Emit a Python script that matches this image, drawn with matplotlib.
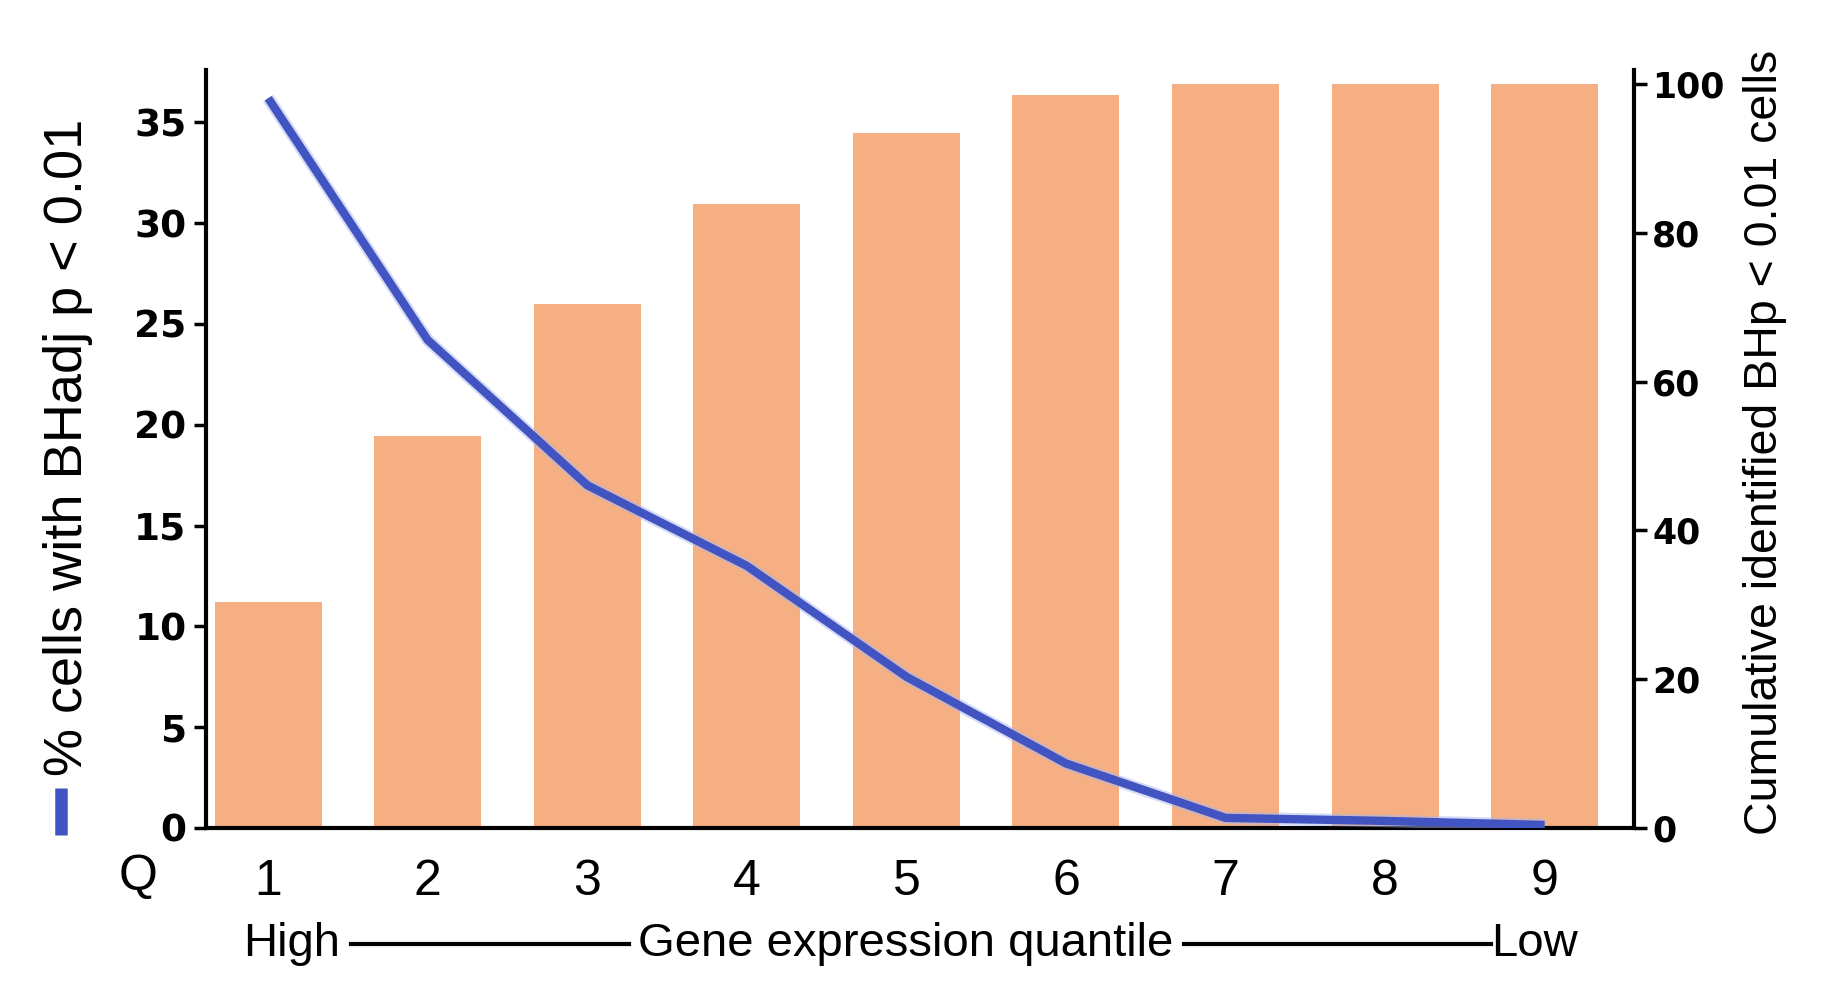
import matplotlib
matplotlib.use("Agg")
import matplotlib.pyplot as plt
from matplotlib.lines import Line2D

quantiles = [1, 2, 3, 4, 5, 6, 7, 8, 9]
pct_cells = [36.2, 24.2, 17.0, 13.0, 7.5, 3.2, 0.5, 0.35, 0.15]
cumulative = [30.4, 52.7, 70.5, 83.9, 93.4, 98.6, 100, 100, 100]
left_ticks = [0, 5, 10, 15, 20, 25, 30, 35]
right_ticks = [0, 20, 40, 60, 80, 100]

NARROW = ["Liberation Sans Narrow", "Liberation Sans", "DejaVu Sans"]
BAR_COLOR = "#F5AF82"
LINE_COLOR = "#4253c2"

fig = plt.figure(figsize=(18.39, 10.08), dpi=100)
ax = fig.add_axes([0.112, 0.1786, 0.7765, 0.752])
ax2 = ax.twinx()

ax2.bar(quantiles, cumulative, width=0.67, color=BAR_COLOR, zorder=1)
ax.plot(quantiles, pct_cells, color="#aab8f0", lw=9, solid_capstyle="butt", zorder=3, alpha=0.5)
ax.plot(quantiles, pct_cells, color=LINE_COLOR, lw=6, solid_capstyle="butt", zorder=4)

ax.set_zorder(ax2.get_zorder() + 1)
ax.patch.set_visible(False)

ax.set_xlim(0.61, 9.56)
ax.set_ylim(0, 37.6)
ax2.set_ylim(0, 101.9)

for a in (ax, ax2):
    a.spines["top"].set_visible(False)
    for s in a.spines.values():
        s.set_linewidth(3)
ax2.spines["left"].set_visible(False)
ax2.spines["bottom"].set_visible(False)
ax.spines["right"].set_visible(False)

ax.set_yticks(left_ticks)
ax.set_yticklabels([str(t) for t in left_ticks], fontsize=27, fontweight="bold", family="DejaVu Sans")
ax.tick_params(axis="y", direction="out", length=9, width=2.5, pad=5)
ax2.set_yticks(right_ticks)
ax2.set_yticklabels([str(t) for t in right_ticks], fontsize=25, fontweight="bold", family="DejaVu Sans")
ax2.tick_params(axis="y", direction="out", length=9, width=2.5, pad=4)

ax.set_xticks(quantiles)
ax.set_xticklabels([str(q) for q in quantiles], fontsize=36, family=NARROW)
ax.tick_params(axis="x", length=0, pad=22)

fig.text(0.075, 0.130, "Q", fontsize=36, family=NARROW, ha="center", va="center")

fig.text(0.037, 0.556, "% cells with BHadj p < 0.01", rotation=90, fontsize=39,
         family=NARROW, ha="center", va="center")
fig.add_artist(Line2D([0.033, 0.033], [0.172, 0.218], color=LINE_COLOR, lw=9,
                      solid_capstyle="butt", transform=fig.transFigure))
fig.text(0.960, 0.561, "Cumulative identified BHp < 0.01 cells", rotation=90, fontsize=33.5,
         family=NARROW, ha="center", va="center")

# bottom caption with connecting rules
y_cap = 0.0635
t_high = fig.text(0.132, y_cap, "High", fontsize=34, family=NARROW, ha="left", va="center")
t_mid = fig.text(0.4923, y_cap, "Gene expression quantile", fontsize=34, family=NARROW,
                 ha="center", va="center")
t_low = fig.text(0.8578, y_cap, "Low", fontsize=34, family=NARROW, ha="right", va="center")
fig.canvas.draw()
r = fig.canvas.get_renderer()
inv = fig.transFigure.inverted()
b_high = inv.transform(t_high.get_window_extent(r))
b_mid = inv.transform(t_mid.get_window_extent(r))
b_low = inv.transform(t_low.get_window_extent(r))
fig.add_artist(Line2D([b_high[1][0] + 0.006, b_mid[0][0] - 0.005], [y_cap, y_cap],
                      color="black", lw=3, transform=fig.transFigure))
fig.add_artist(Line2D([b_mid[1][0] + 0.006, b_low[0][0]], [y_cap, y_cap],
                      color="black", lw=3, transform=fig.transFigure))

fig.savefig("out.png", dpi=100)
